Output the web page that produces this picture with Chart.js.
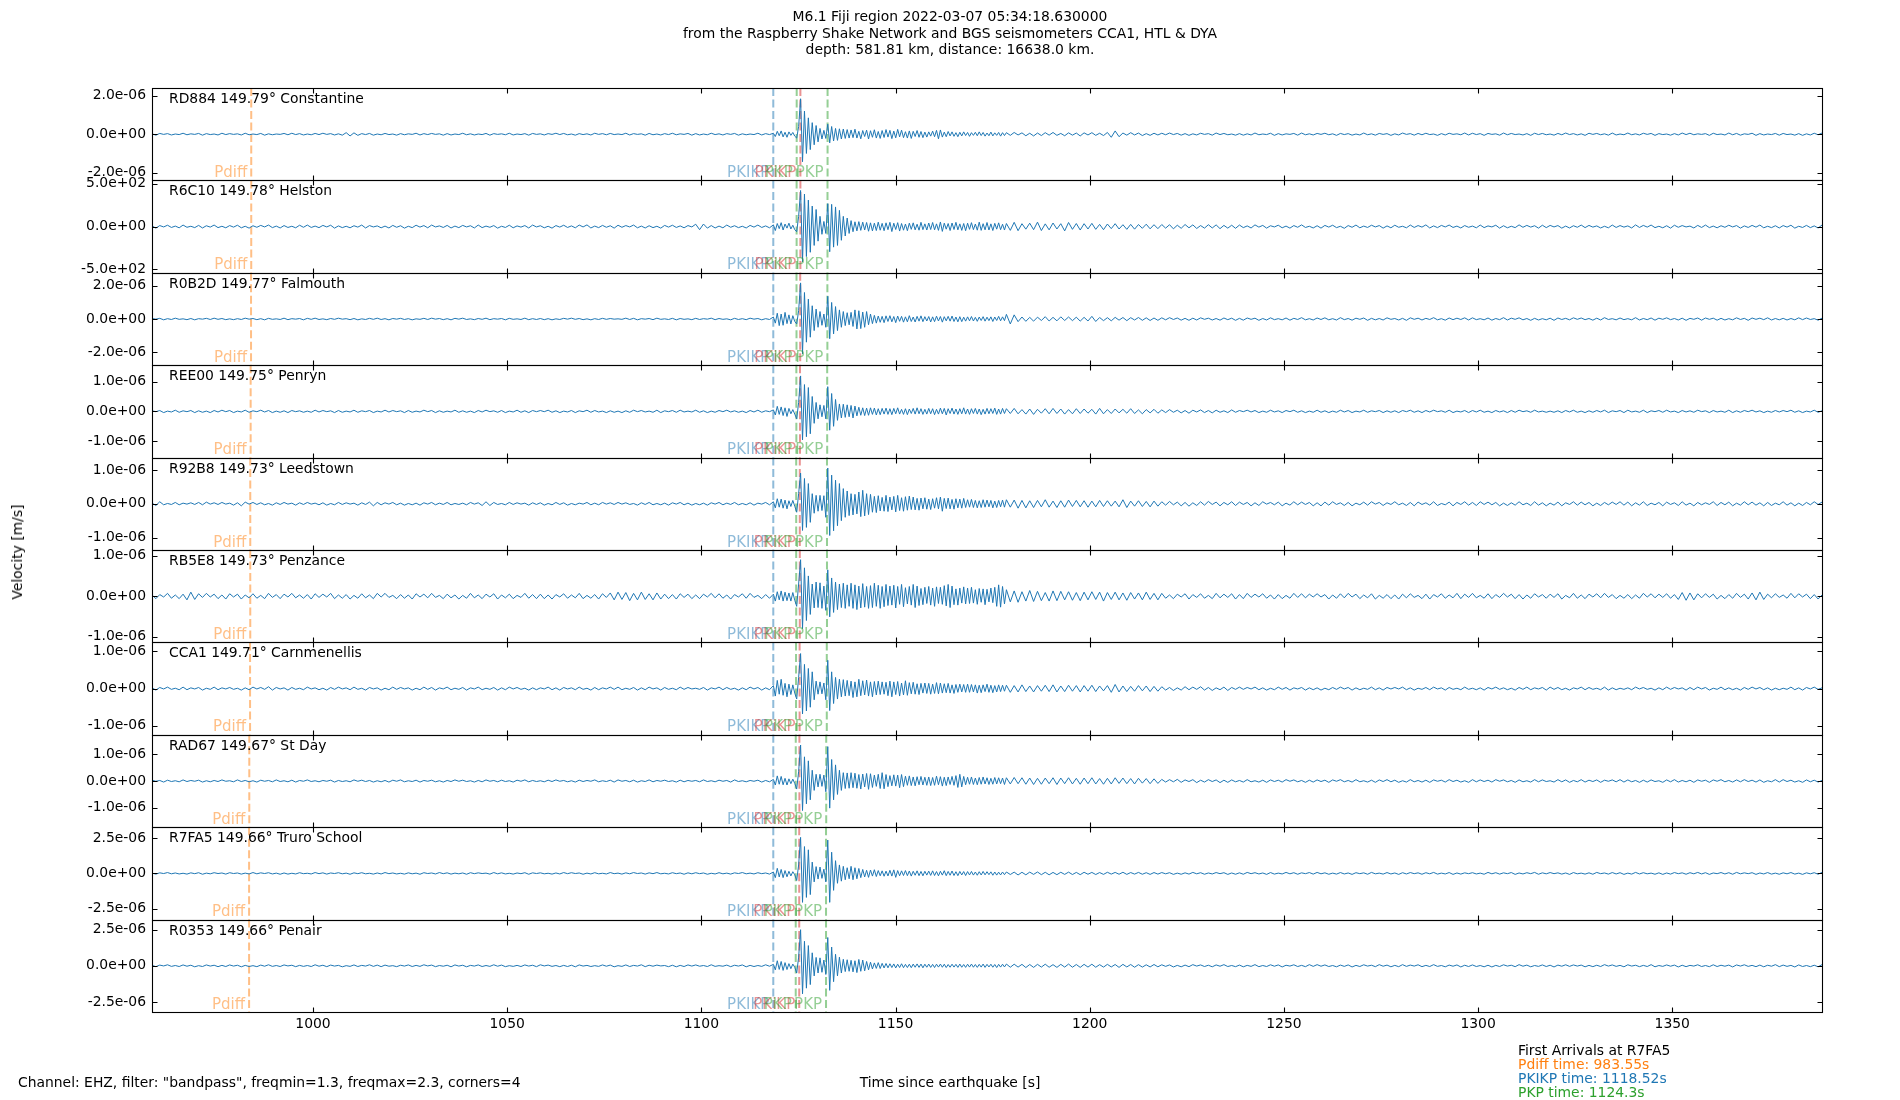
<!DOCTYPE html>
<html>
<head>
<meta charset="utf-8">
<script src="https://cdn.jsdelivr.net/npm/chart.js@4.4.1/dist/chart.umd.min.js"></script>
<style>
  body { margin: 0; background: #fff; font-family: "DejaVu Sans", sans-serif; }
  #wrap { position: relative; width: 1900px; height: 1100px; }
  #seis { position: absolute; left: 0; top: 0; }
  .txt { position: absolute; font-size: 13.9px; color: #000; white-space: pre; }
</style>
</head>
<body>
<div id="wrap">
  <canvas id="seis" width="1900" height="1100"></canvas>
  <div class="txt" style="left:0;top:8px;width:1900px;text-align:center;line-height:16.5px">M6.1 Fiji region 2022-03-07 05:34:18.630000
from the Raspberry Shake Network and BGS seismometers CCA1, HTL &amp; DYA
depth: 581.81 km, distance: 16638.0 km.</div>
  <div class="txt" style="left:17px;top:552px;transform:translate(-50%,-50%) rotate(-90deg)">Velocity [m/s]</div>
  <div class="txt" style="left:18px;top:1074px">Channel: EHZ, filter: "bandpass", freqmin=1.3, freqmax=2.3, corners=4</div>
  <div class="txt" style="left:0;top:1074px;width:1900px;text-align:center">Time since earthquake [s]</div>
  <div class="txt" id="arrivals" style="left:1518px;top:1044px;line-height:13.9px"></div>
</div>
<script>
// stations, top panel first
const stations = ['RD884', 'R6C10', 'R0B2D', 'REE00', 'R92B8', 'RB5E8', 'CCA1', 'RAD67', 'R7FA5', 'R0353'];
const distances = [149.79, 149.78, 149.77, 149.75, 149.73, 149.73, 149.71, 149.67, 149.66, 149.66];
const places = ['Constantine', 'Helston', 'Falmouth', 'Penryn', 'Leedstown', 'Penzance', 'Carnmenellis', 'St Day', 'Truro School', 'Penair'];

// y limits (symmetric) and the outer tick of each panel
const yLimits = [2.4e-6, 540, 2.79e-6, 1.55e-6, 1.37e-6, 1.14e-6, 1.24e-6, 1.72e-6, 3.27e-6, 3.2e-6];
const yTickValues = [2e-6, 500, 2e-6, 1e-6, 1e-6, 1e-6, 1e-6, 1e-6, 2.5e-6, 2.5e-6];
// unit of the trace arrays below (R6C10 is in counts)
const traceUnits = [1e-8, 2, 1e-8, 1e-8, 1e-8, 1e-8, 1e-8, 1e-8, 1e-8, 1e-8];

const xRange = [958.55, 1388.55];
const xTicks = [1000, 1050, 1100, 1150, 1200, 1250, 1300, 1350];

// sampling of the trace arrays: 1 s, then 0.5 s around the arrivals, then 1 s
const segmentStarts = [958.55, 1118.55, 1178.55];
const segmentSteps = [1, 0.5, 1];
const segmentLengths = [160, 120, 220];

// phase arrivals, seconds after origin, one per station
const phaseNames = ['Pdiff', 'PKIKP', 'PKiKP', 'PKP', 'PKP'];
const pdiffTimes = [984.1, 984.1, 984.05, 983.95, 983.85, 983.85, 983.8, 983.6, 983.55, 983.55];
const pkikpTimes = [1118.52, 1118.52, 1118.52, 1118.52, 1118.52, 1118.52, 1118.52, 1118.52, 1118.52, 1118.52];
const pkikpInnerTimes = [1125.5, 1125.5, 1125.45, 1125.4, 1125.35, 1125.35, 1125.3, 1125.25, 1125.2, 1125.2];
const pkpTimes = [1124.55, 1124.53, 1124.5, 1124.46, 1124.42, 1124.42, 1124.38, 1124.31, 1124.3, 1124.3];
const pkp2Times = [1132.5, 1132.48, 1132.45, 1132.4, 1132.35, 1132.35, 1132.3, 1132.15, 1132.1, 1132.1];

// traces: 160 samples at 1 s, 120 at 0.5 s, 220 at 1 s
const rd884 = [
  2,-5,4,-1,3,-4,1,-2,5,-3,2,-1,4,-5,3,-2,1,-4,5,-2,
  3,-1,2,-4,5,-3,1,-2,4,-5,2,-3,1,-1,4,-3,5,-2,3,-4,
  1,-3,4,-2,5,-1,3,-4,2,-5,8,-9,7,-6,3,-2,4,-5,1,-3,
  4,-2,1,-5,3,-3,2,-1,5,-4,3,-2,4,-1,2,-5,3,-4,1,-2,
  5,-3,2,-4,1,-2,4,-5,3,-1,2,-3,5,-4,1,-2,3,-5,4,-1,
  2,-4,3,-1,5,-2,4,-3,1,-5,3,-2,2,-4,5,-1,3,-3,4,-2,
  1,-2,5,-4,3,-1,2,-5,4,-3,1,-4,3,-2,5,-3,2,-1,4,-5,
  3,-4,1,-3,5,-2,2,-4,3,-1,4,-5,2,-3,1,-2,5,-4,3,-2,
  5,-12,15,-8,17,-14,10,-16,12,-6,9,-10,-20,40,184,-143,120,-100,85,-80,
  60,-55,45,-40,30,-25,20,-22,52,-45,40,-35,30,-32,28,-25,27,-22,24,-20,
  22,-18,26,-20,15,-24,19,-12,21,-25,18,-16,23,-20,14,-22,19,-17,24,-15,
  20,-23,16,-19,25,-14,21,-18,13,-20,17,-22,15,-12,19,-16,14,-18,11,-15,
  12,-10,16,-13,20,-24,22,-15,11,-13,14,-9,12,-11,8,-13,10,-9,12,-7,
  9,-11,8,-6,10,-8,12,-7,9,-10,6,-8,11,-9,7,-6,9,-10,8,-7,
  8,-6,9,-4,7,-8,5,-9,6,-7,8,-5,9,-6,4,-8,7,-5,6,-9,
  7,-4,8,-6,5,-7,9,-16,17,-13,6,-5,8,-4,6,-7,3,-6,5,-4,
  5,-3,6,-2,4,-5,3,-6,2,-4,5,-1,3,-5,6,-2,4,-3,1,-5,
  3,-5,2,-4,6,-3,1,-2,5,-6,3,-4,2,-1,4,-5,6,-3,2,-4,
  4,-1,5,-3,2,-6,4,-2,3,-5,1,-4,6,-3,2,-5,4,-1,3,-6,
  2,-4,6,-1,3,-5,4,-3,5,-2,1,-6,3,-4,5,-1,2,-3,6,-4,
  5,-2,3,-6,4,-1,2,-5,6,-3,4,-2,1,-4,3,-6,5,-2,4,-3,
  1,-5,4,-3,6,-2,3,-4,2,-6,5,-1,4,-3,2,-5,6,-4,1,-3,
  6,-3,2,-4,5,-1,4,-6,3,-2,1,-5,3,-4,6,-2,5,-3,2,-1,
  3,-6,5,-2,1,-4,6,-3,4,-5,2,-1,5,-6,3,-4,1,-2,4,-5,
  4,-2,1,-5,3,-6,2,-4,5,-3,6,-1,2,-4,3,-5,1,-3,6,-2
];
const r6c10 = [
  4,-9,6,-2,8,-5,3,-7,9,-4,2,-6,7,-8,5,-3,9,-6,2,-7,
  6,-3,8,-7,2,-9,5,-4,7,-2,9,-6,3,-8,6,-5,2,-7,8,-4,
  9,-5,3,-6,7,-2,8,-9,4,-6,2,-7,5,-3,9,-8,6,-2,4,-7,
  3,-8,7,-4,5,-9,2,-6,8,-3,6,-7,9,-2,4,-5,7,-8,3,-6,
  7,-2,5,-8,9,-6,3,-4,6,-9,2,-5,8,-7,4,-3,6,-8,9,-2,
  5,-7,2,-9,6,-3,8,-5,4,-7,9,-2,10,-8,3,-6,7,-4,5,-9,
  8,-4,6,-2,9,-7,3,-8,5,-6,2,-9,7,-3,8,-5,4,-7,6,-2,
  14,-18,15,-9,6,-8,3,-7,9,-4,5,-6,2,-8,7,-3,9,-5,4,-7,
  10,-23,18,-12,23,-20,15,-9,20,-14,8,-18,-30,60,211,-206,190,-175,155,-150,
  120,-110,100,-85,60,-45,30,-40,134,-147,130,-120,115,-110,95,-80,60,-55,50,-40,
  35,-30,28,-25,29,-22,26,-20,24,-27,22,-25,20,-23,26,-21,19,-24,22,-18,
  25,-29,20,-17,23,-26,18,-21,15,-24,20,-16,22,-19,14,-21,25,-18,16,-20,
  21,-17,24,-19,16,-22,27,-28,20,-15,18,-23,21,-17,25,-19,16,-22,18,-24,
  20,-16,23,-18,15,-21,26,-22,17,-19,24,-20,16,-23,19,-15,22,-18,14,-20,
  18,-22,25,-24,17,-15,20,-18,26,-23,16,-19,21,-14,17,-25,24,-16,18,-20,
  17,-14,19,-16,13,-18,15,-12,17,-14,11,-16,13,-15,12,-10,14,-13,11,-12,
  12,-9,11,-13,8,-10,12,-7,10,-11,6,-9,11,-8,10,-12,7,-9,8,-10,
  9,-6,4,-8,10,-3,7,-9,5,-2,8,-7,3,-9,6,-4,10,-5,2,-8,
  5,-9,7,-3,8,-6,2,-10,6,-4,9,-7,3,-5,8,-2,6,-9,4,-7,
  8,-4,2,-7,9,-5,6,-3,10,-8,4,-6,7,-2,9,-5,3,-8,6,-4,
  3,-7,9,-6,4,-2,8,-9,5,-7,2,-6,10,-4,7,-3,5,-9,8,-6,
  7,-2,6,-9,3,-8,5,-4,9,-6,7,-3,4,-8,2,-7,9,-5,6,-3,
  4,-8,10,-5,7,-3,9,-6,2,-7,5,-9,8,-4,6,-2,3,-8,7,-5,
  9,-6,3,-7,5,-4,8,-2,6,-9,4,-5,7,-3,9,-7,2,-6,5,-8,
  6,-3,8,-9,2,-5,7,-6,4,-8,9,-2,5,-7,3,-9,6,-4,8,-5
];
const r0b2d = [
  3,-1,4,-5,2,-3,5,-2,1,-4,3,-5,2,-1,4,-3,5,-2,3,-4,
  1,-4,2,-3,5,-1,3,-4,2,-5,4,-2,1,-3,5,-4,2,-1,3,-5,
  4,-2,5,-3,1,-4,3,-2,5,-1,2,-4,3,-5,1,-3,4,-2,5,-3,
  2,-5,3,-1,4,-3,2,-5,1,-2,4,-3,5,-1,3,-4,2,-5,4,-1,
  5,-3,1,-4,3,-2,5,-4,2,-1,3,-5,4,-2,1,-3,5,-4,2,-3,
  3,-4,2,-5,1,-3,4,-1,5,-2,3,-4,1,-5,2,-3,4,-2,3,-1,
  1,-2,5,-3,4,-5,2,-1,3,-4,5,-2,1,-3,4,-5,3,-2,1,-4,
  4,-3,2,-1,5,-4,3,-2,1,-5,4,-3,2,-4,5,-1,3,-5,2,-3,
  12,-25,35,-40,30,-38,40,-28,25,-30,20,-15,-30,50,218,-210,160,-140,120,-110,
  80,-70,60,-50,45,-38,30,-50,137,-119,100,-90,75,-70,55,-50,45,-40,38,-35,
  40,-45,55,-60,50,-58,42,-50,45,-35,30,-28,22,-25,18,-20,16,-22,19,-15,
  20,-17,15,-22,18,-14,16,-19,13,-17,20,-15,12,-18,16,-13,19,-16,14,-12,
  15,-18,13,-16,17,-12,15,-19,14,-11,16,-13,18,-15,12,-17,14,-16,11,-13,
  13,-11,15,-12,10,-14,12,-9,14,-13,11,-10,13,-15,12,-9,16,-11,13,-10,
  28,-30,25,-16,12,-14,10,-13,11,-9,14,-12,10,-11,13,-9,12,-10,11,-13,
  10,-12,16,-15,9,-10,8,-11,10,-7,9,-10,8,-6,9,-8,7,-9,6,-8,
  7,-5,8,-3,6,-7,4,-8,5,-6,7,-2,5,-6,3,-7,6,-4,5,-8,
  4,-7,6,-2,5,-8,3,-6,7,-4,2,-5,6,-7,4,-3,8,-5,2,-6,
  6,-3,7,-5,2,-6,8,-4,3,-7,5,-2,6,-8,4,-5,3,-6,7,-2,
  3,-6,4,-8,7,-2,5,-6,4,-3,8,-5,2,-7,6,-4,5,-3,7,-6,
  7,-4,2,-5,6,-7,3,-4,8,-6,5,-2,7,-5,3,-8,4,-6,2,-5,
  5,-8,6,-3,4,-5,7,-2,6,-4,3,-7,5,-6,8,-3,2,-5,6,-4,
  2,-5,8,-6,3,-4,6,-7,5,-2,7,-4,3,-6,5,-8,4,-2,6,-7,
  6,-2,5,-7,4,-6,2,-5,7,-3,4,-8,6,-2,5,-4,7,-6,3,-5,
  4,-6,3,-5,7,-4,6,-3,2,-7,5,-4,8,-6,3,-5,4,-7,6,-2
];
const ree00 = [
  2,-1,3,-4,1,-2,4,-3,2,-1,3,-4,2,-3,1,-4,3,-2,4,-1,
  3,-4,1,-2,4,-3,2,-1,4,-2,3,-4,1,-3,2,-4,3,-1,2,-3,
  1,-3,4,-2,3,-1,2,-4,3,-3,1,-2,4,-3,2,-1,3,-4,1,-2,
  4,-2,3,-1,2,-4,3,-3,1,-2,4,-1,3,-4,2,-3,1,-2,4,-3,
  2,-3,1,-4,3,-2,4,-1,2,-3,3,-4,1,-2,4,-3,2,-4,3,-1,
  3,-1,4,-3,2,-4,1,-2,3,-4,2,-1,4,-3,3,-2,1,-4,2,-3,
  1,-4,2,-3,4,-1,3,-2,1,-3,4,-4,2,-1,3,-3,4,-2,1,-2,
  4,-3,2,-4,1,-3,3,-1,4,-2,2,-3,1,-4,3,-2,4,-3,2,-1,
  5,-12,17,-10,15,-14,12,-17,10,-8,6,-9,-25,30,119,-96,90,-85,80,-75,
  50,-40,30,-25,22,-18,20,-25,83,-63,60,-50,40,-30,25,-22,24,-20,22,-18,
  20,-22,18,-15,14,-13,12,-14,11,-13,12,-10,11,-12,9,-11,10,-9,11,-10,
  9,-11,10,-8,12,-9,7,-10,9,-11,8,-7,10,-9,12,-8,9,-10,7,-9,
  10,-8,9,-11,7,-9,11,-8,10,-12,9,-7,11,-9,8,-10,9,-8,12,-9,
  8,-10,9,-7,10,-9,8,-11,7,-9,10,-8,9,-7,11,-10,8,-9,10,-7,
  9,-7,10,-8,6,-9,8,-10,7,-6,9,-8,10,-7,8,-9,6,-8,9,-7,
  8,-6,7,-9,10,-8,6,-7,8,-5,7,-6,9,-7,5,-8,6,-5,7,-6,
  5,-4,6,-3,4,-5,3,-6,4,-2,5,-4,3,-5,4,-3,2,-4,5,-3,
  3,-1,4,-2,3,-4,1,-3,4,-2,2,-4,3,-1,4,-3,2,-4,1,-3,
  4,-3,2,-4,1,-3,4,-2,3,-4,1,-2,4,-3,2,-1,3,-4,2,-3,
  2,-4,3,-1,4,-3,2,-4,3,-2,4,-1,2,-3,4,-4,1,-2,3,-4,
  3,-2,4,-3,1,-4,3,-2,2,-4,3,-3,4,-1,2,-3,4,-2,1,-3,
  1,-3,2,-4,3,-2,4,-3,1,-4,2,-3,3,-2,4,-4,2,-1,3,-4,
  4,-2,1,-3,4,-4,2,-1,3,-3,4,-2,1,-4,3,-2,2,-3,4,-1,
  2,-4,3,-2,1,-3,4,-4,2,-3,3,-1,4,-2,2,-4,1,-3,3,-2,
  3,-1,4,-3,2,-4,1,-2,4,-3,2,-4,3,-1,2,-3,4,-2,3,-4
];
const r92b8 = [
  2,-5,6,-3,1,-2,4,-3,2,-1,3,-2,4,-3,5,-1,3,-2,4,-1,
  2,-4,3,-6,5,-1,4,-2,3,-3,1,-4,3,-2,4,-1,2,-4,3,-2,
  4,-1,2,-3,3,-4,1,-3,4,-2,3,-1,2,-4,3,-2,5,-6,4,-3,
  3,-1,4,-3,2,-4,1,-3,2,-4,3,-1,4,-3,2,-2,4,-3,1,-2,
  2,-3,4,-1,3,-5,6,-5,4,-2,1,-3,4,-2,3,-1,2,-4,3,-2,
  3,-4,1,-3,4,-2,3,-4,1,-3,2,-1,4,-3,2,-3,4,-1,3,-2,
  4,-1,3,-2,1,-4,3,-2,4,-3,1,-3,2,-4,3,-1,4,-3,2,-4,
  1,-3,2,-4,3,-1,4,-3,2,-2,4,-3,1,-3,3,-4,2,-1,4,-3,
  6,-12,15,-10,14,-13,11,-15,9,-8,10,-7,-25,30,91,-79,75,-70,60,-55,
  30,-28,25,-22,25,-20,24,-40,106,-94,85,-80,70,-65,60,-50,45,-40,38,-35,
  30,-33,28,-30,35,-38,40,-36,30,-32,28,-25,22,-26,24,-21,19,-22,25,-23,
  20,-18,22,-24,25,-20,18,-22,21,-19,23,-17,20,-18,16,-19,17,-15,18,-16,
  14,-17,15,-13,18,-15,20,-22,16,-14,17,-15,13,-16,15,-12,14,-13,16,-11,
  12,-10,13,-11,10,-12,9,-11,12,-10,11,-9,10,-12,8,-11,10,-9,11,-10,
  12,-10,11,-13,10,-12,9,-11,10,-9,12,-10,8,-11,9,-10,11,-8,10,-9,
  9,-10,8,-9,10,-8,9,-7,8,-9,12,-11,8,-7,9,-8,7,-9,8,-7,
  6,-4,7,-3,5,-6,4,-7,3,-5,6,-4,7,-2,5,-6,4,-3,6,-5,
  5,-2,4,-6,3,-5,6,-1,4,-3,5,-6,2,-4,6,-3,5,-2,4,-6,
  3,-6,5,-4,6,-2,3,-5,4,-6,2,-3,5,-4,6,-1,4,-5,3,-2,
  6,-3,2,-5,4,-6,5,-2,3,-4,6,-5,1,-3,5,-6,4,-2,6,-4,
  4,-5,6,-2,5,-3,4,-6,2,-5,3,-4,6,-3,2,-5,6,-4,3,-6,
  2,-4,5,-6,3,-2,6,-4,5,-3,4,-6,2,-5,4,-3,5,-2,6,-4,
  5,-6,3,-4,6,-5,2,-3,4,-6,5,-2,3,-5,6,-4,2,-6,4,-3,
  3,-2,6,-5,4,-3,5,-6,2,-4,6,-3,5,-4,3,-6,4,-5,2,-3,
  6,-4,3,-6,2,-5,4,-3,6,-2,5,-4,3,-6,5,-2,4,-3,6,-5
];
const rb5e8 = [
  3,-6,4,-2,7,-5,3,-6,5,-9,10,-8,6,-3,7,-2,5,-6,3,-7,
  6,-2,5,-7,3,-4,6,-5,2,-6,7,-3,4,-6,5,-2,7,-4,3,-5,
  4,-7,6,-3,5,-2,7,-6,3,-5,4,-7,2,-5,6,-4,3,-6,7,-2,
  7,-3,2,-6,4,-5,3,-7,6,-2,5,-4,7,-3,2,-6,5,-4,3,-7,
  2,-5,7,-4,3,-6,5,-2,6,-7,3,-4,5,-6,2,-3,7,-5,4,-6,
  5,-6,3,-7,4,-2,6,-5,3,-4,7,-6,2,-5,4,-7,6,-3,8,-9,
  10,-8,9,-11,7,-9,10,-8,6,-9,8,-7,5,-6,4,-7,6,-3,5,-6,
  3,-6,5,-2,7,-4,6,-5,3,-7,4,-2,6,-5,7,-3,2,-6,4,-5,
  5,-12,11,-9,13,-12,10,-11,8,-12,9,-10,-25,30,90,-80,70,-60,50,-45,
  30,-29,35,-28,33,-30,25,-35,65,-51,45,-40,35,-33,30,-28,32,-30,28,-25,
  32,-30,28,-33,25,-29,31,-27,24,-30,26,-28,32,-25,27,-30,24,-26,29,-23,
  25,-22,27,-29,24,-20,29,-26,21,-19,24,-22,29,-28,25,-23,19,-21,22,-18,
  24,-22,20,-25,23,-18,22,-20,26,-24,29,-28,25,-21,18,-22,20,-17,23,-19,
  20,-18,22,-17,16,-20,19,-15,18,-21,17,-14,20,-16,22,-25,28,-27,24,-19,
  16,-14,13,-15,11,-12,14,-13,12,-11,9,-12,13,-11,12,-9,11,-10,9,-11,
  10,-9,11,-8,10,-12,9,-8,10,-9,8,-10,9,-7,8,-9,10,-8,7,-9,
  7,-5,3,-6,5,-2,6,-7,4,-3,6,-5,2,-6,7,-4,5,-3,6,-7,
  4,-6,7,-3,5,-2,6,-5,3,-7,4,-6,2,-5,7,-3,6,-4,5,-2,
  6,-2,4,-7,3,-5,6,-4,7,-2,5,-6,3,-4,6,-7,2,-5,4,-6,
  3,-7,5,-4,6,-3,2,-6,5,-7,4,-2,6,-5,3,-4,7,-6,5,-3,
  7,-4,2,-5,6,-6,4,-3,7,-2,5,-6,4,-7,3,-5,6,-2,4,-5,
  5,-3,6,-7,2,-4,7,-5,3,-6,5,-2,6,-4,7,-3,4,-6,2,-5,
  4,-6,3,-5,7,-2,6,-4,5,-3,6,-5,4,-8,9,-10,8,-9,6,-4,
  6,-3,5,-7,2,-6,4,-5,7,-3,5,-7,8,-9,10,-8,5,-4,6,-3,
  3,-5,7,-4,6,-2,5,-6,4,-7,3,-5,6,-2,7,-4,5,-6,3,-5
];
const cca1 = [
  2,-4,3,-1,4,-2,1,-3,4,-3,2,-1,3,-4,1,-2,4,-3,2,-1,
  3,-2,1,-4,2,-3,4,-1,3,-2,5,-4,3,-1,2,-4,3,-2,1,-3,
  4,-1,2,-3,1,-4,3,-2,4,-1,2,-3,4,-2,1,-4,3,-1,2,-4,
  1,-3,4,-2,3,-1,2,-4,1,-3,4,-2,3,-4,2,-1,4,-3,1,-2,
  3,-4,2,-1,4,-3,1,-2,3,-4,2,-3,4,-1,3,-2,1,-4,2,-3,
  2,-1,4,-3,2,-4,3,-1,2,-3,4,-2,1,-4,3,-3,2,-1,4,-2,
  4,-3,1,-2,3,-4,2,-3,4,-1,2,-4,3,-2,1,-3,4,-2,3,-1,
  1,-2,3,-4,2,-1,4,-3,3,-2,1,-4,2,-3,4,-1,3,-4,2,-3,
  8,-20,22,-15,25,-18,14,-22,12,-16,10,-12,-28,30,94,-68,65,-60,54,-50,
  45,-30,20,-15,18,-14,15,-30,76,-59,45,-40,30,-28,25,-22,24,-20,22,-19,
  20,-24,18,-22,25,-19,21,-17,23,-20,18,-22,19,-17,20,-16,18,-15,17,-19,
  20,-22,18,-16,19,-20,15,-17,21,-18,16,-14,17,-15,13,-16,14,-12,15,-13,
  14,-15,12,-13,16,-14,15,-12,13,-11,14,-12,10,-13,11,-10,12,-9,11,-10,
  12,-10,11,-9,10,-12,9,-11,10,-8,12,-10,9,-11,8,-9,10,-8,9,-7,
  9,-10,8,-9,10,-8,7,-9,8,-7,9,-8,10,-9,7,-8,9,-7,8,-9,
  8,-7,9,-8,7,-6,8,-10,11,-9,7,-8,6,-7,8,-6,7,-8,6,-7,
  5,-4,3,-5,2,-4,5,-3,4,-2,5,-4,3,-5,2,-3,4,-5,3,-2,
  4,-2,3,-1,4,-3,2,-4,1,-3,4,-2,3,-4,2,-1,3,-4,2,-3,
  2,-4,1,-3,3,-2,4,-1,3,-4,2,-3,1,-2,4,-3,2,-4,3,-1,
  3,-1,4,-3,2,-4,1,-2,3,-3,4,-1,2,-4,3,-2,1,-3,4,-2,
  1,-3,2,-4,3,-1,4,-2,2,-3,1,-4,3,-2,4,-3,2,-1,3,-4,
  4,-2,3,-3,1,-4,2,-1,4,-3,3,-2,1,-3,4,-4,2,-3,1,-2,
  2,-3,4,-1,3,-2,1,-4,2,-3,4,-2,3,-1,2,-4,3,-3,4,-1,
  3,-4,1,-2,4,-3,2,-3,1,-4,3,-2,4,-1,3,-3,2,-4,1,-3,
  1,-2,4,-3,2,-4,3,-1,4,-2,2,-3,1,-4,3,-2,4,-3,2,-1
];
const rad67 = [
  3,-1,2,-4,3,-2,1,-3,4,-2,2,-1,3,-4,1,-3,2,-2,4,-1,
  1,-3,4,-2,2,-3,1,-4,3,-1,2,-3,4,-2,1,-3,3,-4,2,-1,
  4,-2,1,-3,2,-1,3,-4,2,-2,1,-3,4,-1,3,-2,2,-4,1,-3,
  2,-4,3,-1,4,-3,1,-2,3,-4,2,-1,3,-3,1,-4,2,-2,4,-1,
  3,-2,1,-4,2,-3,4,-1,2,-3,3,-2,1,-4,3,-1,4,-3,2,-2,
  1,-3,3,-2,4,-1,2,-3,1,-4,3,-2,2,-1,4,-3,1,-2,3,-4,
  4,-1,2,-3,3,-4,1,-2,4,-3,2,-1,3,-2,1,-4,3,-3,2,-1,
  2,-3,4,-2,1,-3,3,-1,2,-4,4,-2,1,-3,2,-1,3,-4,2,-3,
  6,-15,19,-12,17,-14,10,-15,8,-10,7,-9,-30,35,134,-110,90,-85,75,-70,
  40,-35,25,-22,25,-20,22,-40,128,-101,80,-70,60,-50,40,-35,31,-28,30,-27,
  31,-25,29,-27,24,-30,26,-22,28,-31,27,-24,22,-20,25,-28,31,-29,24,-21,
  20,-18,23,-19,22,-25,24,-21,18,-16,19,-17,15,-18,16,-14,17,-15,14,-16,
  15,-17,13,-16,18,-14,16,-19,14,-17,15,-13,17,-16,20,-24,25,-22,17,-14,
  14,-12,15,-13,11,-14,13,-12,15,-11,12,-13,10,-12,13,-11,12,-10,11,-13,
  12,-11,13,-10,12,-12,11,-13,10,-12,11,-10,12,-13,11,-10,12,-11,10,-12,
  11,-10,12,-11,9,-12,10,-11,12,-9,11,-10,9,-11,10,-8,9,-10,8,-9,
  6,-4,5,-3,6,-5,4,-2,5,-6,3,-4,5,-2,4,-6,3,-5,4,-3,
  2,-4,5,-3,1,-4,3,-5,4,-2,3,-4,5,-1,4,-3,2,-5,3,-4,
  4,-2,3,-5,4,-1,5,-3,2,-4,5,-3,1,-4,3,-5,4,-2,5,-3,
  3,-5,1,-4,5,-3,2,-4,3,-5,4,-1,3,-4,5,-2,3,-4,1,-5,
  5,-3,4,-2,3,-4,5,-1,4,-3,2,-5,4,-3,1,-4,5,-3,4,-2,
  1,-4,5,-3,4,-5,2,-3,5,-4,3,-2,4,-5,3,-1,4,-3,5,-4,
  4,-3,2,-5,3,-4,4,-2,1,-5,4,-3,5,-4,2,-3,3,-5,4,-1,
  3,-5,4,-1,5,-3,2,-4,4,-3,5,-2,3,-4,4,-5,1,-3,5,-4,
  5,-2,3,-4,1,-5,4,-3,3,-4,2,-5,4,-1,3,-4,5,-3,2,-4
];
const r7fa5 = [
  2,-5,4,-1,6,-3,3,-4,1,-5,4,-2,5,-6,2,-3,5,-1,3,-5,
  5,-1,3,-5,2,-4,6,-3,4,-1,5,-4,2,-6,3,-5,1,-4,5,-2,
  1,-4,6,-2,4,-5,3,-1,5,-3,2,-6,4,-2,5,-3,1,-5,3,-4,
  6,-2,3,-4,1,-5,4,-3,2,-6,5,-1,3,-4,6,-2,4,-5,2,-3,
  3,-6,5,-2,4,-1,2,-5,6,-3,4,-4,1,-5,3,-2,5,-6,4,-1,
  4,-3,1,-5,3,-4,6,-2,5,-1,3,-6,2,-4,5,-3,1,-4,6,-2,
  2,-5,4,-3,6,-1,3,-5,4,-2,6,-3,1,-4,5,-2,3,-6,4,-3,
  5,-2,3,-6,1,-4,5,-3,2,-5,4,-1,6,-3,2,-4,5,-2,3,-5,
  10,-30,36,-25,28,-30,20,-24,15,-18,12,-10,-50,60,255,-205,190,-170,167,-150,
  80,-60,48,-40,45,-35,30,-60,236,-205,150,-120,90,-70,60,-55,50,-45,40,-38,
  50,-45,40,-38,35,-30,28,-25,22,-28,24,-19,26,-22,20,-17,18,-20,16,-18,
  22,-19,25,-28,20,-17,18,-15,20,-16,17,-19,15,-13,18,-16,14,-17,15,-12,
  16,-14,18,-15,13,-17,15,-12,19,-16,14,-13,17,-15,12,-16,14,-11,13,-15,
  13,-11,14,-12,10,-13,12,-11,14,-10,12,-9,11,-13,10,-12,9,-11,10,-9,
  10,-8,9,-11,8,-10,9,-7,10,-9,8,-10,7,-9,8,-7,9,-8,7,-9,
  8,-6,7,-8,6,-7,8,-5,7,-6,8,-7,6,-5,7,-6,5,-7,6,-5,
  6,-3,5,-7,2,-6,4,-5,7,-3,5,-6,3,-4,6,-2,5,-7,3,-6,
  4,-6,7,-2,5,-4,3,-7,6,-5,2,-4,7,-3,5,-6,4,-2,6,-5,
  7,-3,4,-6,2,-5,6,-4,3,-7,5,-2,4,-6,7,-3,2,-5,6,-4,
  3,-7,5,-4,6,-2,4,-6,5,-3,7,-5,2,-4,6,-7,3,-5,4,-2,
  5,-4,2,-6,7,-3,5,-5,4,-2,6,-7,3,-4,5,-2,7,-6,4,-3,
  6,-2,4,-5,3,-7,6,-3,2,-5,4,-6,7,-2,3,-5,6,-4,5,-7,
  2,-5,7,-4,5,-3,2,-6,4,-7,3,-5,6,-2,4,-6,5,-3,7,-4,
  5,-7,3,-2,6,-4,5,-6,7,-3,4,-2,5,-7,3,-4,6,-5,2,-6,
  4,-3,6,-5,2,-7,4,-3,5,-6,7,-4,2,-5,6,-3,4,-7,5,-2
];
const r0353 = [
  3,-6,5,-1,7,-4,2,-5,6,-3,4,-7,1,-5,6,-2,4,-6,3,-5,
  6,-2,4,-7,3,-5,1,-6,5,-3,7,-4,2,-5,6,-1,4,-6,3,-4,
  2,-5,7,-3,4,-6,5,-2,3,-7,1,-4,6,-5,3,-2,7,-4,5,-6,
  5,-3,1,-6,4,-2,6,-5,3,-4,7,-1,5,-6,2,-3,4,-7,6,-2,
  4,-7,3,-2,6,-5,2,-4,7,-3,5,-6,1,-4,3,-5,6,-2,4,-6,
  7,-1,5,-4,2,-6,3,-5,4,-7,6,-2,3,-5,1,-4,6,-3,5,-7,
  1,-4,6,-5,3,-2,7,-6,4,-3,5,-1,2,-6,4,-7,3,-5,6,-2,
  6,-3,2,-5,7,-4,1,-3,5,-6,4,-2,6,-7,3,-5,2,-4,7,-3,
  10,-28,35,-25,30,-32,22,-26,15,-20,12,-10,-50,60,250,-194,170,-155,140,-130,
  90,-70,58,-50,55,-45,40,-60,196,-170,130,-110,80,-70,60,-50,45,-40,42,-38,
  38,-42,35,-47,44,-38,40,-35,30,-28,25,-22,20,-18,22,-19,17,-15,16,-14,
  14,-12,13,-15,11,-12,14,-13,10,-12,11,-13,12,-10,13,-11,12,-14,11,-10,
  12,-11,10,-12,11,-9,12,-10,11,-12,9,-10,11,-9,10,-11,12,-10,9,-11,
  11,-9,12,-10,9,-11,10,-9,12,-11,10,-8,11,-10,9,-12,10,-9,11,-8,
  12,-10,11,-9,10,-12,9,-11,10,-9,11,-10,8,-11,10,-9,12,-10,9,-11,
  10,-9,11,-10,8,-9,10,-8,9,-11,10,-8,9,-10,8,-9,7,-8,9,-7,
  7,-4,6,-8,3,-7,5,-6,8,-2,6,-5,4,-7,6,-3,8,-5,2,-6,
  5,-7,3,-4,8,-6,2,-5,7,-3,6,-8,4,-2,7,-5,3,-6,8,-4,
  8,-3,6,-5,2,-7,5,-4,6,-8,3,-5,7,-2,4,-6,8,-3,5,-7,
  3,-6,8,-4,5,-2,7,-6,3,-5,8,-4,2,-7,5,-3,6,-8,4,-5,
  6,-5,2,-7,4,-8,3,-5,7,-2,4,-6,8,-3,5,-7,2,-4,6,-5,
  4,-8,5,-3,7,-4,6,-2,5,-7,3,-6,4,-5,8,-2,6,-4,3,-7,
  7,-2,4,-6,3,-5,8,-7,2,-4,6,-3,5,-8,4,-6,3,-2,7,-5,
  2,-6,7,-5,4,-3,5,-8,6,-2,7,-4,3,-6,5,-7,4,-3,8,-6,
  5,-4,3,-8,6,-5,2,-6,4,-7,8,-3,6,-2,5,-4,7,-6,3,-5
];
const traces = [rd884, r6c10, r0b2d, ree00, r92b8, rb5e8, cca1, rad67, r7fa5, r0353];

const phaseTimes = [pdiffTimes, pkikpTimes, pkikpInnerTimes, pkpTimes, pkp2Times];
const phaseColors = ['rgba(255,127,14,0.5)', 'rgba(31,119,180,0.5)', 'rgba(214,39,40,0.5)', 'rgba(44,160,44,0.5)', 'rgba(44,160,44,0.5)'];
const refStation = 8; // R7FA5

// time of sample k, from the segment table
function sampleTime(k) {
  let s = 0;
  while (s < segmentLengths.length - 1 && k >= segmentLengths[s]) {
    k -= segmentLengths[s];
    s++;
  }
  return segmentStarts[s] + k * segmentSteps[s];
}

// "2.0e-06" style labels
function sci(v) {
  return v.toExponential(1).replace(/e([+-])(\d)$/, 'e$10$2');
}

const FONT = 'DejaVu Sans';

const scales = {
  x: {
    type: 'linear', position: 'bottom', min: xRange[0], max: xRange[1],
    grid: { display: false, drawTicks: false }, border: { display: false },
    ticks: { color: '#000', font: { family: FONT, size: 13.9 }, padding: 4, autoSkip: false, maxRotation: 0,
      callback: v => String(v) },
    afterBuildTicks: s => { s.ticks = xTicks.map(v => ({ value: v })); },
    afterFit: s => { s.height = 88; }
  }
};
stations.forEach((st, i) => {
  scales['y' + i] = {
    type: 'linear', position: 'left', stack: 'traces', stackWeight: 1, weight: 20 - i,
    min: -yLimits[i], max: yLimits[i],
    grid: { display: false, drawTicks: false }, border: { display: false },
    ticks: { color: '#000', font: { family: FONT, size: 13.9 }, padding: 6, autoSkip: false,
      callback: v => sci(v) },
    afterBuildTicks: s => { s.ticks = [{ value: -yTickValues[i] }, { value: 0 }, { value: yTickValues[i] }]; },
    afterFit: s => { s.width = 152; }
  };
});

// frames, inward ticks, phase lines and labels
const seismoPlugin = {
  id: 'seismo',
  beforeDatasetsDraw(chart) {
    const ctx = chart.ctx, xs = chart.scales.x;
    ctx.save();
    ctx.lineWidth = 2;
    ctx.setLineDash([8, 3.5]);
    stations.forEach((st, i) => {
      const ys = chart.scales['y' + i];
      phaseTimes.forEach((times, j) => {
        const px = xs.getPixelForValue(times[i]);
        ctx.strokeStyle = phaseColors[j];
        ctx.beginPath();
        ctx.moveTo(px, ys.top);
        ctx.lineTo(px, ys.bottom);
        ctx.stroke();
      });
    });
    ctx.restore();
  },
  afterDatasetsDraw(chart) {
    const ctx = chart.ctx, xs = chart.scales.x, area = chart.chartArea;
    ctx.save();
    stations.forEach((st, i) => {
      const ys = chart.scales['y' + i];
      const top = Math.round(ys.top) + 0.5, bot = Math.round(ys.bottom) + 0.5;
      const left = Math.round(area.left) + 0.5, right = Math.round(area.right) + 0.5;

      // phase names
      ctx.font = '15px "' + FONT + '"';
      ctx.textAlign = 'right';
      ctx.textBaseline = 'alphabetic';
      phaseTimes.forEach((times, j) => {
        ctx.fillStyle = phaseColors[j];
        ctx.fillText(phaseNames[j], xs.getPixelForValue(times[i]) - 4, ys.bottom - 3.5);
      });

      // station label
      ctx.font = '13.9px "' + FONT + '"';
      ctx.textAlign = 'left';
      ctx.fillStyle = '#000';
      ctx.fillText(st + ' ' + distances[i].toFixed(2) + '\u00b0 ' + places[i], area.left + 17, ys.top + 15);

      // frame
      ctx.strokeStyle = '#000';
      ctx.lineWidth = 1.1;
      ctx.strokeRect(left, top, right - left, bot - top);

      // inward ticks
      ctx.beginPath();
      xTicks.forEach(v => {
        const px = Math.round(xs.getPixelForValue(v)) + 0.5;
        ctx.moveTo(px, top); ctx.lineTo(px, top + 5);
        ctx.moveTo(px, bot); ctx.lineTo(px, bot - 5);
      });
      [-yTickValues[i], 0, yTickValues[i]].forEach(v => {
        const py = Math.round(ys.getPixelForValue(v)) + 0.5;
        ctx.moveTo(left, py); ctx.lineTo(left + 5, py);
        ctx.moveTo(right, py); ctx.lineTo(right - 5, py);
      });
      ctx.stroke();
    });
    ctx.restore();
  }
};

new Chart(document.getElementById('seis'), {
  type: 'line',
  data: {
    datasets: traces.map((vals, i) => ({
      label: stations[i],
      data: vals.map((v, k) => ({ x: sampleTime(k), y: v * traceUnits[i] })),
      yAxisID: 'y' + i,
      borderColor: '#1f77b4',
      borderWidth: 1,
      pointRadius: 0,
      fill: false,
      tension: 0
    }))
  },
  options: {
    responsive: false,
    animation: false,
    parsing: false,
    layout: { padding: { top: 88, right: 78, bottom: 0, left: 0 } },
    plugins: { legend: { display: false }, tooltip: { enabled: false }, title: { display: false } },
    scales: scales
  },
  plugins: [seismoPlugin]
});

// first arrivals at the reference station
document.getElementById('arrivals').innerHTML =
  'First Arrivals at ' + stations[refStation] + '<br>' +
  '<span style="color:#ff7f0e">Pdiff time: ' + pdiffTimes[refStation] + 's</span><br>' +
  '<span style="color:#1f77b4">PKIKP time: ' + pkikpTimes[refStation] + 's</span><br>' +
  '<span style="color:#2ca02c">PKP time: ' + pkpTimes[refStation] + 's</span>';
</script>
</body>
</html>
